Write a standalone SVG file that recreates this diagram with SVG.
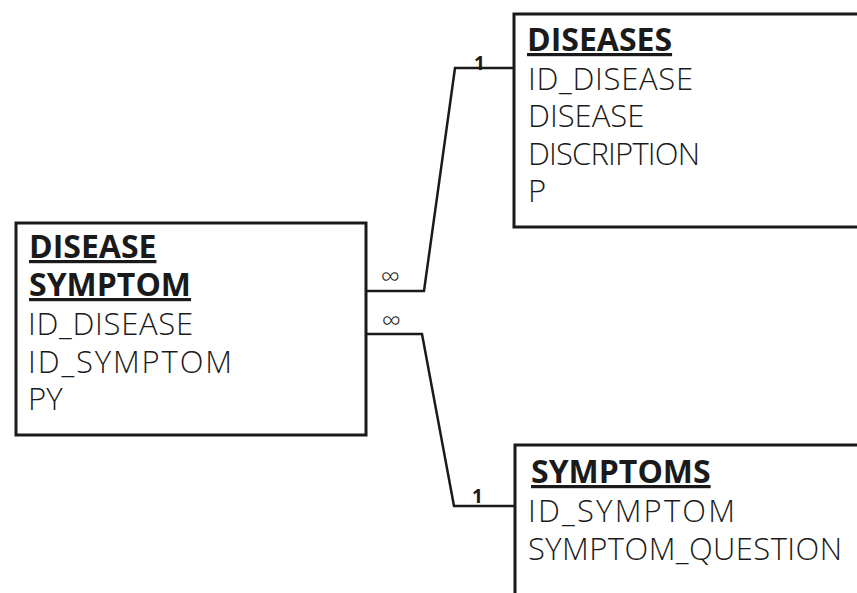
<svg xmlns="http://www.w3.org/2000/svg" width="857" height="593" viewBox="0 0 857 593">
  <style>
    .box { fill: #ffffff; stroke: #1a1a1a; stroke-width: 3; }
    .title { font-family: "Open Sans", "Liberation Sans", sans-serif; font-weight: 700; font-size: 32px; fill: #1a1a1a; text-decoration: underline; }
    .field { font-family: "Open Sans", "Liberation Sans", sans-serif; font-weight: 300; font-size: 31px; fill: #1a1a1a; }
    .link { fill: none; stroke: #1a1a1a; stroke-width: 2.5; stroke-linejoin: miter; }
    .card { font-family: "Open Sans", "Liberation Sans", sans-serif; font-weight: 700; font-size: 19px; fill: #1a1a1a; }
    .many { font-family: "Open Sans", "DejaVu Sans", sans-serif; font-weight: 300; font-size: 27px; fill: #1a1a1a; }
  </style>

  <rect width="857" height="593" fill="#ffffff"/>

  <!-- relationship lines -->
  <g id="connectors">
    <polyline class="link" points="366,291 424,291 455,68 514,68"/>
    <polyline class="link" points="366,334 422,334 454,506 515,506"/>
    <text class="card" x="474" y="70">1</text>
    <text class="card" x="472" y="503">1</text>
    <text class="many" x="381" y="286">∞</text>
    <text class="many" x="382" y="330">∞</text>
  </g>

  <g id="disease-symptom">
    <rect class="box" x="16" y="223" width="350" height="212"/>
    <text class="title" x="29" y="258">DISEASE</text>
    <text class="title" x="29" y="296">SYMPTOM</text>
    <text class="field" x="28" y="335" textLength="165">ID_DISEASE</text>
    <text class="field" x="28" y="373" textLength="204">ID_SYMPTOM</text>
    <text class="field" x="28" y="410">PY</text>
  </g>

  <g id="diseases">
    <rect class="box" x="514" y="14" width="360" height="213"/>
    <text class="title" x="527" y="51">DISEASES</text>
    <text class="field" x="528" y="90" textLength="165">ID_DISEASE</text>
    <text class="field" x="528" y="127">DISEASE</text>
    <text class="field" x="528" y="165" textLength="172">DISCRIPTION</text>
    <text class="field" x="528" y="202">P</text>
  </g>

  <g id="symptoms">
    <rect class="box" x="515" y="445" width="360" height="170"/>
    <text class="title" x="531" y="483">SYMPTOMS</text>
    <text class="field" x="528" y="522" textLength="207">ID_SYMPTOM</text>
    <text class="field" x="528" y="560" textLength="314">SYMPTOM_QUESTION</text>
  </g>
</svg>
